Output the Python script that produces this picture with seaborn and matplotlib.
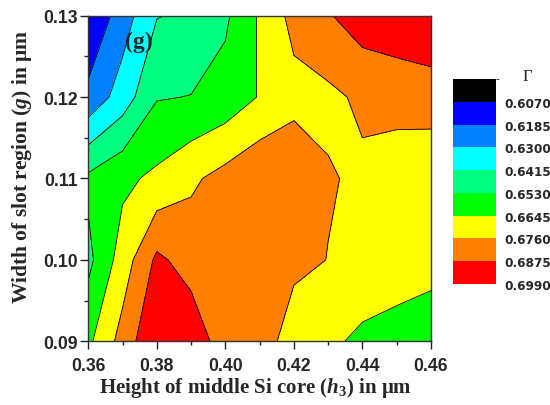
import numpy as np
import matplotlib
matplotlib.use("Agg")
import matplotlib.pyplot as plt
import seaborn as sns
from matplotlib.colors import ListedColormap, BoundaryNorm
from matplotlib.cm import ScalarMappable
from matplotlib.ticker import MultipleLocator, FormatStrFormatter

# ---- data -------------------------------------------------------------
h3 = [0.36, 0.37, 0.38, 0.39, 0.40, 0.41, 0.42, 0.43, 0.44, 0.45, 0.46]
g_vals = [0.09, 0.10, 0.11, 0.12, 0.13]

gamma_g009 = [0.6621, 0.6803, 0.6988, 0.6950, 0.6814, 0.6853, 0.6671, 0.6661, 0.6628, 0.6610, 0.6587]
gamma_g010 = [0.6500, 0.6698, 0.6898, 0.6828, 0.6840, 0.6840, 0.6800, 0.6757, 0.6700, 0.6690, 0.6680]
gamma_g011 = [0.6554, 0.6620, 0.6669, 0.6740, 0.6800, 0.6856, 0.6858, 0.6770, 0.6740, 0.6700, 0.6667]
gamma_g012 = [0.6216, 0.6354, 0.6523, 0.6533, 0.6572, 0.6652, 0.6720, 0.6735, 0.6780, 0.6800, 0.6820]
gamma_g013 = [0.6075, 0.6244, 0.6410, 0.6436, 0.6511, 0.6658, 0.6798, 0.6865, 0.6936, 0.6955, 0.6968]

levels = [0.5955, 0.6070, 0.6185, 0.6300, 0.6415, 0.6530, 0.6645, 0.6760, 0.6875, 0.6990]
level_labels = ["0.6070", "0.6185", "0.6300", "0.6415", "0.6530",
                "0.6645", "0.6760", "0.6875", "0.6990"]
fill_colors = ["#000000", "#0000FF", "#0080FF", "#00FFFF", "#00FF80",
               "#00FF00", "#FFFF00", "#FF8000", "#FF0000"]

# ---- style ------------------------------------------------------------
sns.set_style("ticks")
palette = sns.color_palette(fill_colors)
plt.rcParams["font.family"] = ["Liberation Sans", "DejaVu Sans"]
plt.rcParams["mathtext.fontset"] = "custom"
plt.rcParams["mathtext.rm"] = "Liberation Serif:bold"
plt.rcParams["mathtext.bf"] = "Liberation Serif:bold"
plt.rcParams["mathtext.it"] = "Liberation Serif:bold:italic"

fig = plt.figure(figsize=(5.5, 4.06), dpi=100)
ax = fig.add_axes([0.1605, 0.1569, 0.6231, 0.802])

Z = np.array([gamma_g009, gamma_g010, gamma_g011, gamma_g012, gamma_g013])
cmap = ListedColormap(palette)
norm = BoundaryNorm(levels, cmap.N)

ax.contourf(h3, g_vals, Z, levels=levels, cmap=cmap, norm=norm)
ax.contour(h3, g_vals, Z, levels=levels[1:-1], colors="black", linewidths=0.6)

ax.set_xlim(0.36, 0.46)
ax.set_ylim(0.09, 0.13)
ax.xaxis.set_major_locator(MultipleLocator(0.02))
ax.xaxis.set_minor_locator(MultipleLocator(0.01))
ax.yaxis.set_major_locator(MultipleLocator(0.01))
ax.yaxis.set_minor_locator(MultipleLocator(0.005))
ax.xaxis.set_major_formatter(FormatStrFormatter("%.2f"))
ax.yaxis.set_major_formatter(FormatStrFormatter("%.2f"))
ax.tick_params(which="major", direction="out", length=6, width=1.0,
               labelsize=12.7, color="#222222")
ax.tick_params(which="minor", direction="out", length=3, width=1.0, color="#222222")
ax.tick_params(axis="x", which="major", pad=5)
ax.tick_params(axis="y", which="major", pad=1.5)
for lab in ax.get_xticklabels() + ax.get_yticklabels():
    lab.set_fontweight("bold")
for sp in ax.spines.values():
    sp.set_visible(True)
    sp.set_linewidth(1.0)
    sp.set_color("#333333")

ax.set_xlabel("Height of middle Si core ($h_3$) in μm", family="Liberation Serif",
              fontweight="bold", fontsize=15, va="baseline")
ax.xaxis.set_label_coords(0.489, -0.156)
ax.set_ylabel("Width of slot region ($g$) in μm", family="Liberation Serif",
              fontweight="bold", fontsize=15.5, va="center")
ax.yaxis.set_label_coords(-0.192, 0.54)

ax.text(0.3748, 0.1269, "(g)", family="Liberation Serif", fontweight="bold",
        fontsize=17, ha="center", va="center")

# ---- colour legend ---------------------------------------------------
cax = fig.add_axes([0.8231, 0.298, 0.0788, 0.505])
sm = ScalarMappable(norm=norm, cmap=cmap)
cb = fig.colorbar(sm, cax=cax, boundaries=levels, ticks=levels[1:], spacing="uniform")
cb.outline.set_visible(False)
cax.invert_yaxis()
cb.set_ticklabels(level_labels)
cax.tick_params(length=0, pad=6, labelsize=8.7)
for lab in cax.get_yticklabels():
    lab.set_family("DejaVu Sans")
    lab.set_fontweight("bold")
fig.text(527 / 550, 1 - 77 / 406, "Γ", family="Liberation Serif", fontsize=12,
         ha="center", va="center")

fig.savefig("out.png", dpi=100)
